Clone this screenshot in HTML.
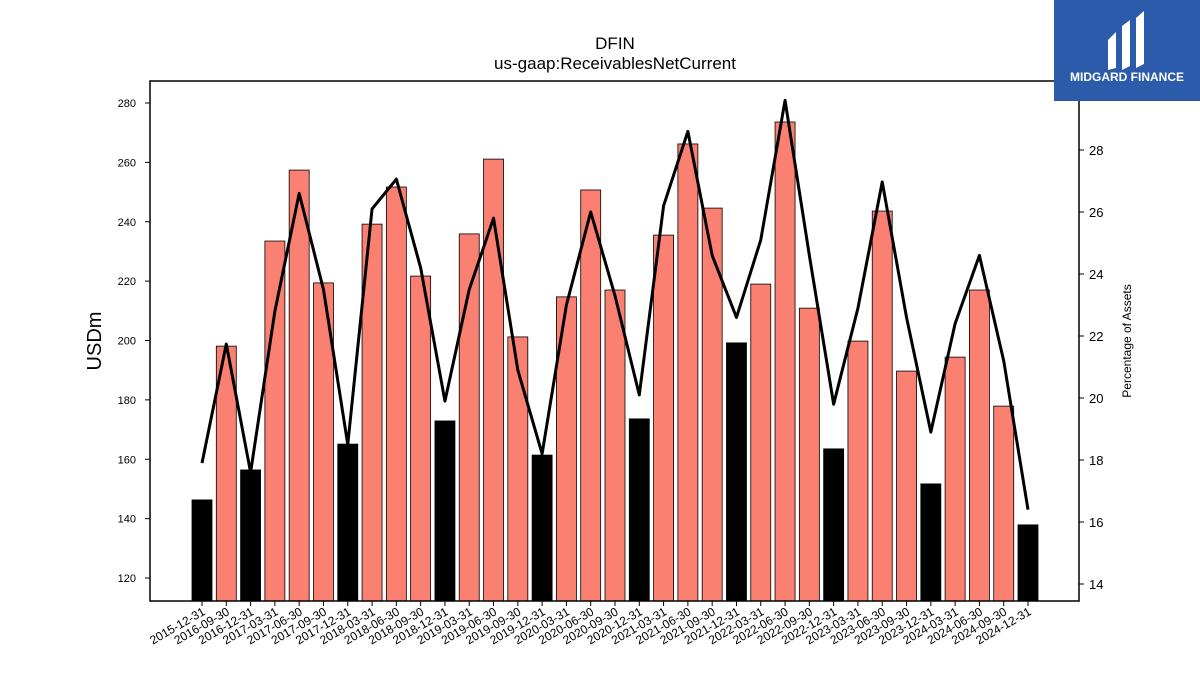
<!DOCTYPE html>
<html><head><meta charset="utf-8"><style>
body{margin:0;background:#fff;}
svg{display:block;font-family:"Liberation Sans","DejaVu Sans",sans-serif;}
</style></head><body>
<svg id="chart" width="1200" height="675" viewBox="0 0 1200 675">
<defs><clipPath id="plotclip"><rect x="150" y="81" width="929" height="520"/></clipPath></defs>
<text x="615" y="49" text-anchor="middle" font-size="17">DFIN</text>
<text x="615" y="69" text-anchor="middle" font-size="17">us-gaap:ReceivablesNetCurrent</text>
<g id="bars" clip-path="url(#plotclip)"></g>
<g id="line"></g>
<rect x="150" y="81" width="929" height="520" fill="none" stroke="#000" stroke-width="1.5"/>
<g id="axes"></g>
<text transform="translate(101,341) rotate(-90)" text-anchor="middle" font-size="20">USDm</text>
<text transform="translate(1131,341) rotate(-90)" text-anchor="middle" font-size="12">Percentage of Assets</text>
<g>
<rect x="1054" y="0" width="146" height="101" fill="#2c5bab"/>
<path d="M1108 40 L1116 32 L1116 68 L1108 70 Z M1122 26 L1130 20 L1130 66 L1122 70 Z M1136 18 L1144 11 L1144 64 L1136 68 Z" fill="#fff"/>
<text x="1127" y="81" text-anchor="middle" font-size="12" font-weight="bold" fill="#fff">MIDGARD FINANCE</text>
</g>
</svg>
<script>
const categories=["2015-12-31","2016-09-30","2016-12-31","2017-03-31","2017-06-30","2017-09-30","2017-12-31","2018-03-31","2018-06-30","2018-09-30","2018-12-31","2019-03-31","2019-06-30","2019-09-30","2019-12-31","2020-03-31","2020-06-30","2020-09-30","2020-12-31","2021-03-31","2021-06-30","2021-09-30","2021-12-31","2022-03-31","2022-06-30","2022-09-30","2022-12-31","2023-03-31","2023-06-30","2023-09-30","2023-12-31","2024-03-31","2024-06-30","2024-09-30","2024-12-31"];
const receivables=[146.3,198.1,156.4,233.5,257.4,219.4,165.1,239.2,251.7,221.7,172.9,235.9,261.1,201.2,161.4,214.7,250.7,217,173.6,235.5,266.2,244.6,199.2,219,273.6,210.9,163.5,199.8,243.6,189.7,151.7,194.4,217,177.9,137.9];
const pctAssets=[17.9,21.74,17.6,22.8,26.6,23.5,18.5,26.1,27.06,24.2,19.9,23.5,25.8,20.9,18.2,23.0,26.0,23.3,20.1,26.2,28.6,24.6,22.6,25.1,29.6,24.6,19.8,22.9,26.97,22.6,18.9,22.4,24.6,21.2,16.4];
const leftTicks=[120,140,160,180,200,220,240,260,280];
const rightTicks=[14,16,18,20,22,24,26,28];
const NS="http://www.w3.org/2000/svg";
const xPos=i=>202+i*(1028-202)/(categories.length-1);
const yL=v=>103+(280-v)*(578-103)/160;
const yR=v=>150+(28-v)*31;
function mk(tag,attrs,parent){const e=document.createElementNS(NS,tag);for(const k in attrs)e.setAttribute(k,attrs[k]);parent.appendChild(e);return e;}
const bars=document.getElementById('bars'),line=document.getElementById('line'),axes=document.getElementById('axes');
receivables.forEach((v,i)=>{
  const black=categories[i].endsWith('12-31');
  const r=mk('rect',{x:xPos(i)-10,y:yL(v),width:20,height:620-yL(v),fill:black?'#000':'#fa8072',stroke:'#000','stroke-width':0.8},bars);
  
  
});
const pl=mk('polyline',{points:pctAssets.map((v,i)=>xPos(i)+','+yR(v)).join(' '),fill:'none',stroke:'#000','stroke-width':3,'stroke-linejoin':'round'},line);


leftTicks.forEach(t=>{
  mk('line',{x1:145,x2:150,y1:yL(t),y2:yL(t),stroke:'#000'},axes);
  const tx=mk('text',{x:136,y:yL(t)+4,'text-anchor':'end','font-size':11},axes);tx.textContent=t;
  
  
});
rightTicks.forEach(t=>{
  mk('line',{x1:1079,x2:1084,y1:yR(t),y2:yR(t),stroke:'#000'},axes);
  const tx=mk('text',{x:1089,y:yR(t)+5,'font-size':13},axes);tx.textContent=t;
  
  
});
categories.forEach((c,i)=>{
  const x=xPos(i);
  mk('line',{x1:x,x2:x,y1:601,y2:606,stroke:'#000'},axes);
  const tx=mk('text',{transform:`translate(${x+4},${614}) rotate(-30)`,'text-anchor':'end','font-size':12},axes);tx.textContent=c;
  
  
});
</script>
</body></html>
